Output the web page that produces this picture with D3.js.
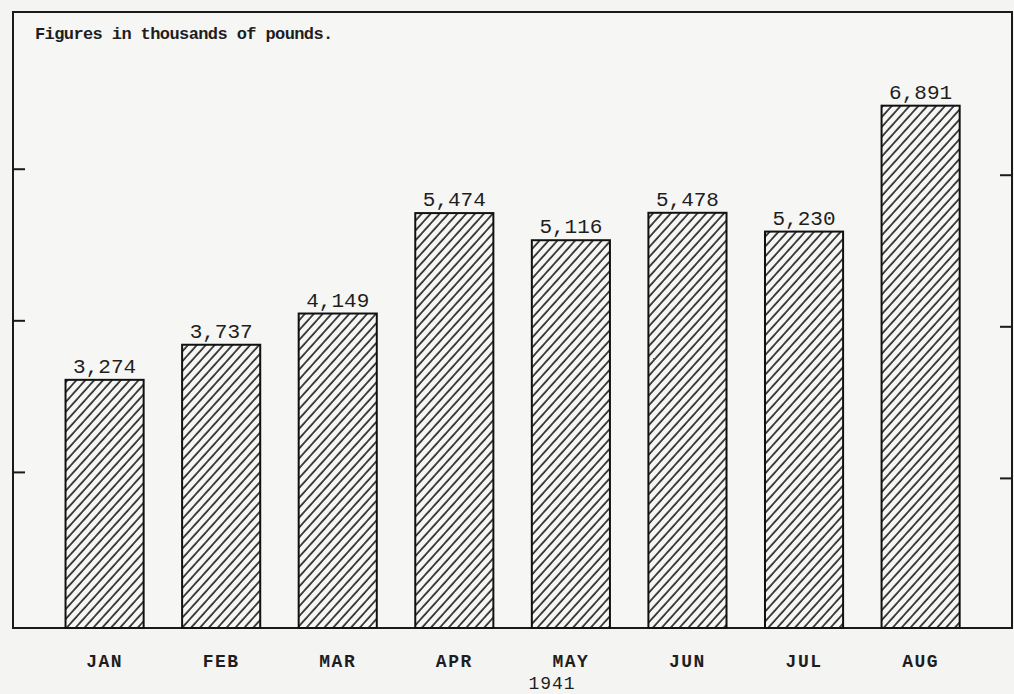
<!DOCTYPE html>
<html>

<head>
  <meta charset="utf-8">
  <title>Figures in thousands of pounds</title>
  <style>
    body {
      margin: 0;
      background: #f4f4f3;
    }

    text {
      fill: #1e1e1e;
      font-family: "Liberation Mono", "DejaVu Sans Mono", monospace;
    }
  </style>
</head>

<body>
  <svg></svg>
  <script src="https://cdnjs.cloudflare.com/ajax/libs/d3/7.8.5/d3.min.js"></script>
  <script>
    var months = ["JAN", "FEB", "MAR", "APR", "MAY", "JUN", "JUL", "AUG"];
    var values = [3274, 3737, 4149, 5474, 5116, 5478, 5230, 6891];
    var tickValues = [2000, 4000, 6000];
    var yearLabel = "1941";
    var note = "Figures in thousands of pounds.";

    var width = 1014,
      height = 694;
    var frame = { left: 13, right: 1012, top: 12, bottom: 628 };

    var svg = d3.select("svg").attr("width", width).attr("height", height);

    var x = d3.scaleBand()
      .domain(months)
      .range([46.3, 978.9])
      .paddingInner(0.33)
      .paddingOuter(0.165);

    var y = d3.scaleLinear()
      .domain([0, 8127])
      .range([frame.bottom, frame.top]);

    // hatching
    svg.append("defs").append("pattern")
      .attr("id", "hatch")
      .attr("patternUnits", "userSpaceOnUse")
      .attr("width", 6.6)
      .attr("height", 10)
      .attr("patternTransform", "rotate(42)")
      .append("line")
      .attr("x1", 1).attr("y1", 0)
      .attr("x2", 1).attr("y2", 10)
      .style("stroke", "#1a1a1a")
      .style("stroke-width", 1.6);

    // frame
    svg.append("rect")
      .attr("x", frame.left)
      .attr("y", frame.top)
      .attr("width", frame.right - frame.left)
      .attr("height", frame.bottom - frame.top)
      .style("fill", "#f6f6f5")
      .style("stroke", "#1a1a1a")
      .style("stroke-width", 2);

    // ticks, left and right
    svg.selectAll(".tickL").data(tickValues)
      .enter()
      .append("line")
      .attr("x1", frame.left).attr("x2", frame.left + 12)
      .attr("y1", d => y(d) - 4).attr("y2", d => y(d) - 4)
      .style("stroke", "#1a1a1a").style("stroke-width", 2);

    svg.selectAll(".tickR").data(tickValues)
      .enter()
      .append("line")
      .attr("x1", frame.right - 12).attr("x2", frame.right)
      .attr("y1", d => y(d) + 2).attr("y2", d => y(d) + 2)
      .style("stroke", "#1a1a1a").style("stroke-width", 2);

    // bars
    svg.selectAll(".bar").data(values)
      .enter()
      .append("rect")
      .attr("x", (d, i) => x(months[i]))
      .attr("y", d => y(d))
      .attr("width", x.bandwidth())
      .attr("height", d => frame.bottom - y(d))
      .style("fill", "url(#hatch)")
      .style("stroke", "#111")
      .style("stroke-width", 2);

    // value labels
    svg.selectAll(".val").data(values)
      .enter()
      .append("text")
      .attr("x", (d, i) => x(months[i]) + x.bandwidth() / 2)
      .attr("y", d => y(d) - 7)
      .attr("text-anchor", "middle")
      .attr("font-size", "21px")
      .text(d => d3.format(",")(d));

    // month labels
    svg.selectAll(".mon").data(months)
      .enter()
      .append("text")
      .attr("x", d => x(d) + x.bandwidth() / 2)
      .attr("y", 667)
      .attr("text-anchor", "middle")
      .attr("font-size", "18px")
      .attr("font-weight", "bold")
      .attr("letter-spacing", "1.5px")
      .text(d => d);

    svg.append("text")
      .attr("x", 552)
      .attr("y", 689)
      .attr("text-anchor", "middle")
      .attr("font-size", "18px")
      .attr("letter-spacing", "1px")
      .text(yearLabel);

    svg.append("text")
      .attr("x", 35)
      .attr("y", 39)
      .attr("font-size", "17px")
      .attr("font-weight", "bold")
      .attr("letter-spacing", "-0.6px")
      .text(note);
  </script>
</body>

</html>
